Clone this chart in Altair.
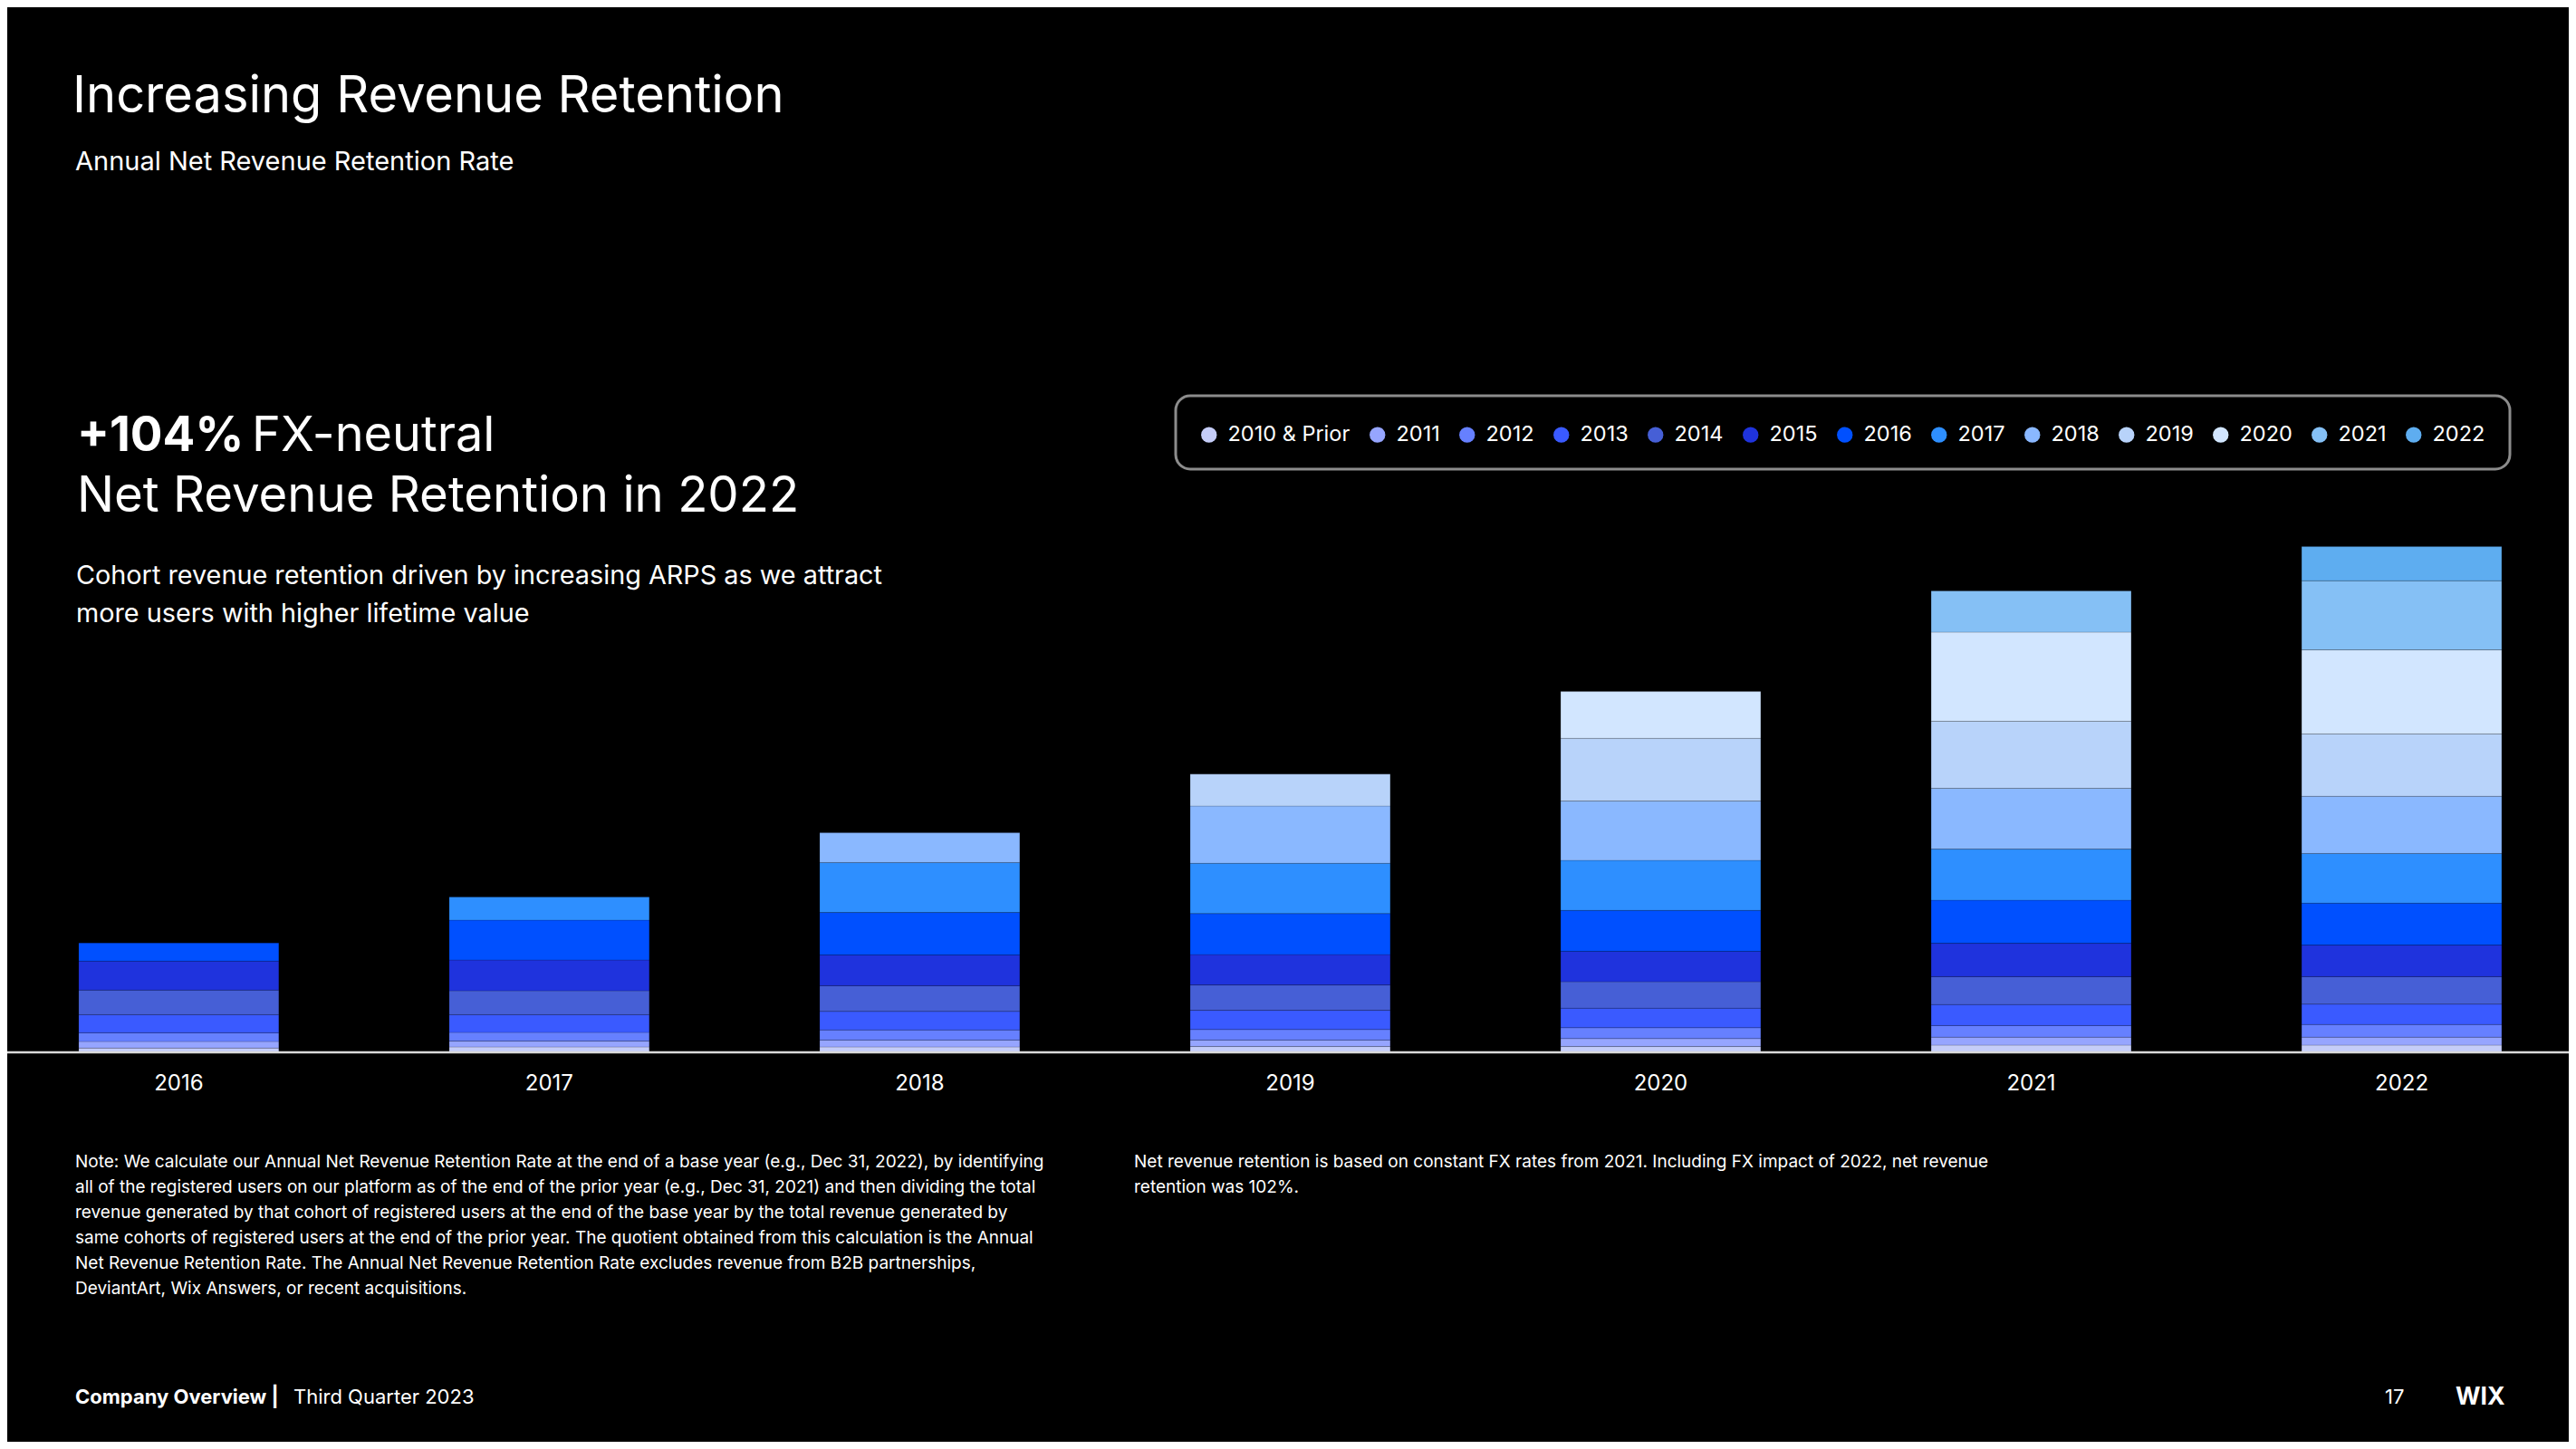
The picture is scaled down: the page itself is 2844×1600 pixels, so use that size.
import altair as alt
import pandas as pd

# ---------------- data ----------------
years = ["2016", "2017", "2018", "2019", "2020", "2021", "2022"]
cohorts = ["2010 & Prior", "2011", "2012", "2013", "2014", "2015", "2016",
           "2017", "2018", "2019", "2020", "2021", "2022"]
cohort_colors = ["#c5cdf8", "#96a5ff", "#6680ff", "#3a5aff", "#465fd6", "#1f33dd",
                 "#0050ff", "#2e8fff", "#8ab8ff", "#b8d3fa", "#d2e6ff", "#85c0f5", "#5eadf0"]

# revenue by cohort (approx. $M), bottom (2010 & Prior) to top (newest cohort)
rev_2016 = [12, 18, 24, 50, 68, 80, 50]
rev_2017 = [15, 16, 24, 49, 66, 85, 110, 64]
rev_2018 = [15, 19, 28, 51, 71, 85, 117, 138, 82]
rev_2019 = [16, 18, 29, 53, 70, 84, 113, 139, 158, 88]
rev_2020 = [16, 22, 30, 54, 73, 84, 113, 138, 164, 173, 129]
rev_2021 = [20, 22, 32, 58, 77, 92, 119, 141, 168, 185, 246, 114]
rev_2022 = [20, 22, 35, 56, 76, 87, 116, 137, 158, 172, 232, 191, 94]
revenue = [rev_2016, rev_2017, rev_2018, rev_2019, rev_2020, rev_2021, rev_2022]

title_text = "Increasing Revenue Retention"
subtitle_text = "Annual Net Revenue Retention Rate"
kpi_bold = "+104%"
kpi_rest = "FX-neutral"
kpi_line2 = "Net Revenue Retention in 2022"
driver_lines = ["Cohort revenue retention driven by increasing ARPS as we attract",
                "more users with higher lifetime value"]
note_lines = [
    "Note: We calculate our Annual Net Revenue Retention Rate at the end of a base year (e.g., Dec 31, 2022), by identifying",
    "all of the registered users on our platform as of the end of the prior year (e.g., Dec 31, 2021) and then dividing the total",
    "revenue generated by that cohort of registered users at the end of the base year by the total revenue generated by",
    "same cohorts of registered users at the end of the prior year. The quotient obtained from this calculation is the Annual",
    "Net Revenue Retention Rate. The Annual Net Revenue Retention Rate excludes revenue from B2B partnerships,",
    "DeviantArt, Wix Answers, or recent acquisitions.",
]
fx_lines = ["Net revenue retention is based on constant FX rates from 2021. Including FX impact of 2022, net revenue",
            "retention was 102%."]
footer_bold = "Company Overview  |"
footer_rest = "Third Quarter 2023"
page_no = "17"
logo = "WIX"

rows = []
for y, vals in zip(years, revenue):
    for i, v in enumerate(vals):
        rows.append({"year": y, "cohort": cohorts[i], "idx": i, "value": v})
df = pd.DataFrame(rows)

FONT = "Inter"
W, H = 2828, 1154
one = pd.DataFrame({"k": [0]})

bars = alt.Chart(df).mark_bar(stroke="#000000", strokeOpacity=0.15, strokeWidth=1).encode(
    x=alt.X("year:N", sort=years,
            scale=alt.Scale(paddingInner=0.46, paddingOuter=0.187, align=0.516),
            axis=alt.Axis(title=None, domain=False, ticks=False, labelAngle=0,
                          labelFontSize=24, labelColor="#ffffff", labelFont=FONT,
                          labelPadding=41, labelBaseline="alphabetic")),
    y=alt.Y("value:Q", stack="zero",
            scale=alt.Scale(domain=[0, 2885], nice=False, zero=True), axis=None),
    color=alt.Color("cohort:N",
                    scale=alt.Scale(domain=cohorts, range=cohort_colors),
                    legend=alt.Legend(title=None, orient="none", legendX=1315, legendY=460,
                                      direction="horizontal", columns=13,
                                      symbolType="circle", symbolSize=300,
                                      symbolStrokeWidth=0, symbolOpacity=1,
                                      labelFontSize=23.5, labelColor="#ffffff", labelFont=FONT,
                                      labelOffset=9, columnPadding=18, padding=0)),
    order=alt.Order("idx:Q", sort="ascending"),
)

baseline = alt.Chart(one).mark_rule(color="#d9d9d9", strokeWidth=2.5).encode(
    x=alt.value(0), x2=alt.value(W), y=alt.value(H))

legend_box = alt.Chart(one).mark_rect(fill="#000000", stroke="#8c8c8c", strokeWidth=3,
                                      cornerRadius=16).encode(
    x=alt.value(1290), x2=alt.value(2763), y=alt.value(429), y2=alt.value(510))


def txt(text, x, y, size, weight="normal", lh=None, color="#ffffff"):
    kw = dict(align="left", baseline="alphabetic", fontSize=size, fontWeight=weight,
              color=color, font=FONT)
    if lh is not None:
        kw["lineHeight"] = lh
    return alt.Chart(one).mark_text(**kw).encode(
        x=alt.value(x), y=alt.value(y), text=alt.value(text))


texts = [
    txt(title_text, 72, 116, 56),
    txt(subtitle_text, 75, 180, 29),
    txt(kpi_bold, 77, 490, 53, weight="bold"),
    txt(kpi_rest, 270, 490, 54),
    txt(kpi_line2, 77, 557, 54.5),
    txt(driver_lines, 76, 637, 28.8, lh=42),
    txt(note_lines, 75, 1281, 19, lh=28),
    txt(fx_lines, 1244, 1281, 19, lh=28),
    txt(footer_bold, 75, 1542, 22, weight="bold"),
    txt(footer_rest, 316, 1542, 22),
    txt(page_no, 2625, 1542, 22),
    txt(logo, 2703, 1543, 26.5, weight="bold"),
]

chart = alt.layer(legend_box, bars, baseline, *texts).properties(
    width=W, height=H,
    padding={"left": 0, "top": 0, "right": 0, "bottom": 430},
    autosize=alt.AutoSizeParams(type="none"),
    background="#000000",
).configure_view(stroke=None)

chart.save("out.html", embed_options={"renderer": "svg", "actions": False})
